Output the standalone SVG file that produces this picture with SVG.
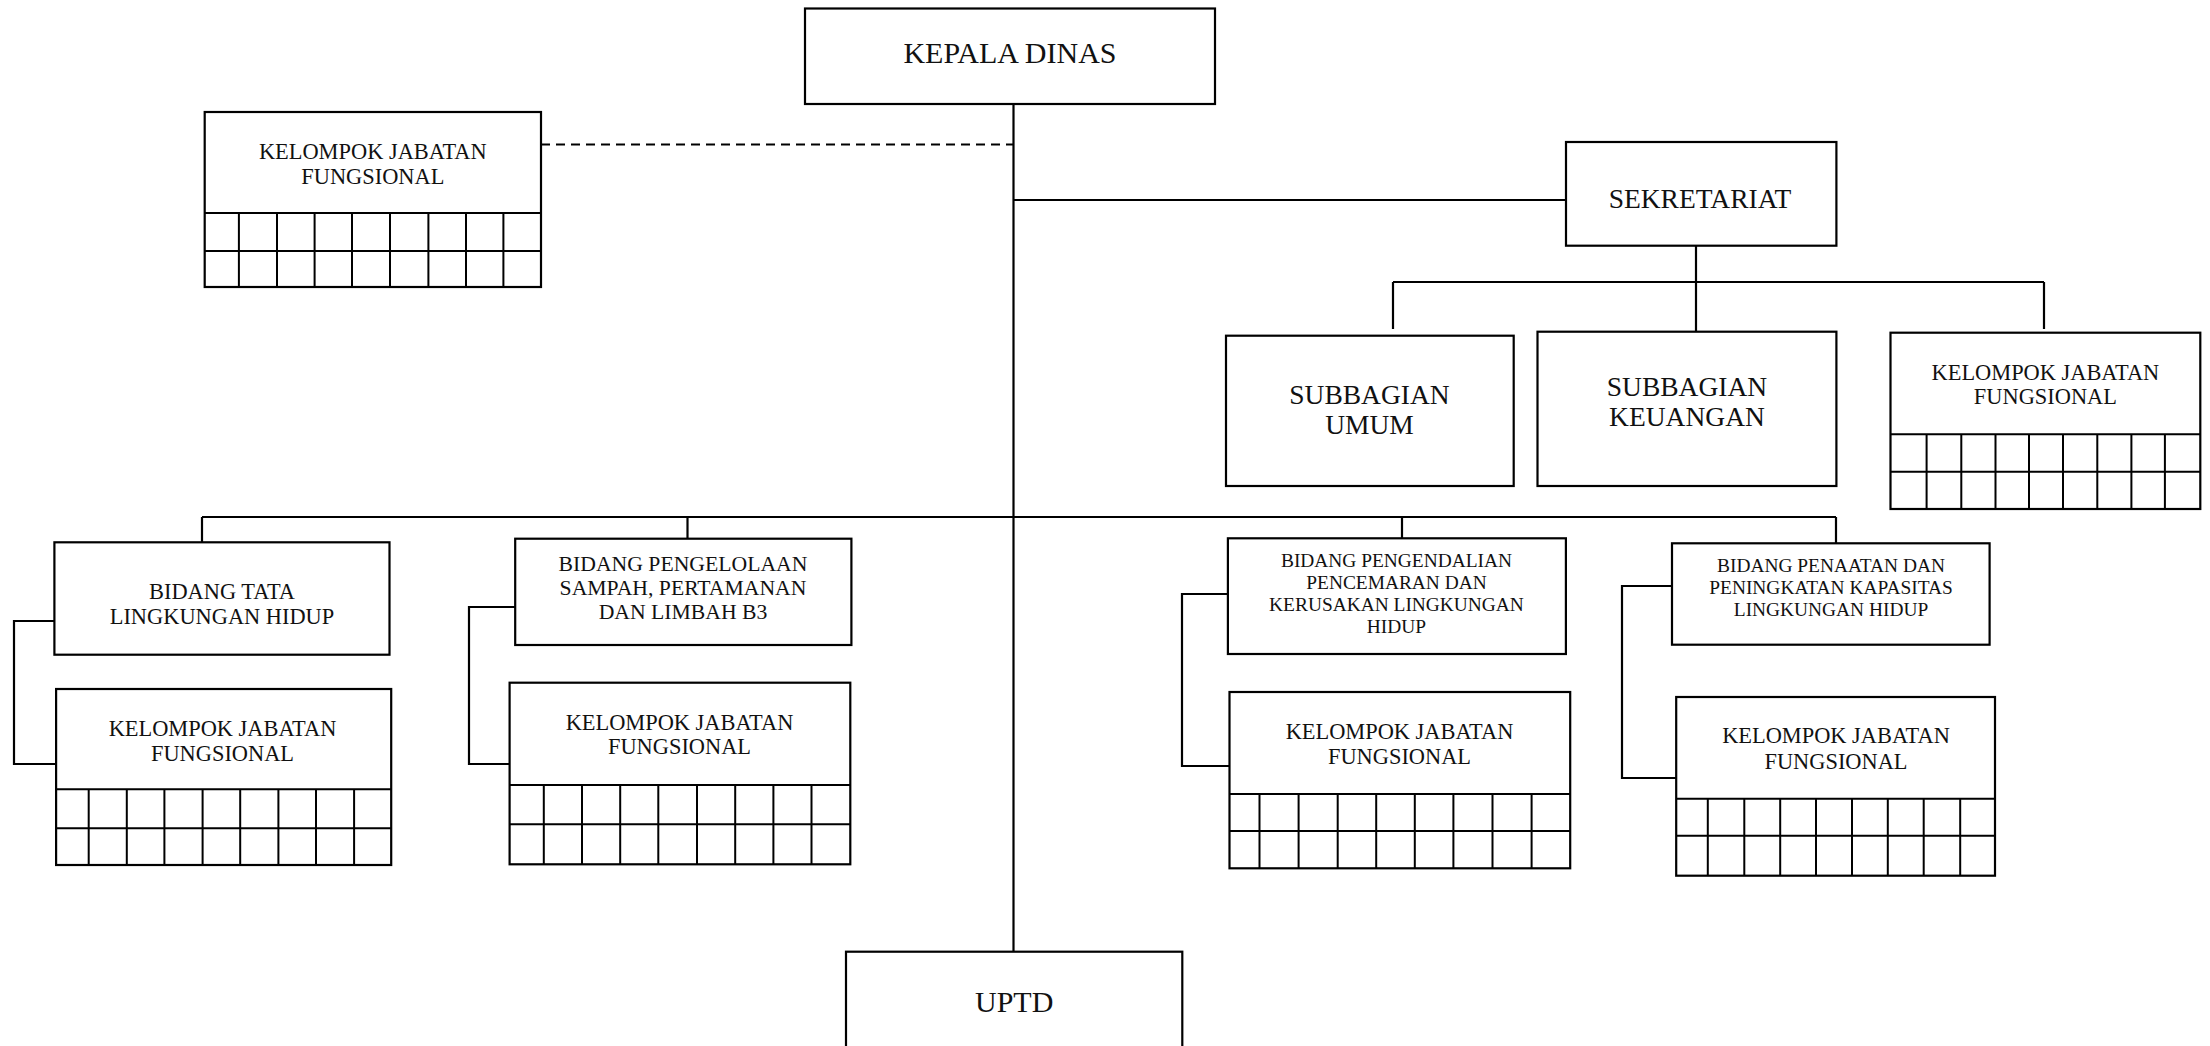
<svg xmlns="http://www.w3.org/2000/svg" width="2210" height="1046" viewBox="0 0 2210 1046">
<style>
.box{fill:#fff;stroke:#000;stroke-width:2.2}
.grid{fill:none;stroke:#000;stroke-width:2}
.ln{fill:none;stroke:#000;stroke-width:2.2}
.dash{fill:none;stroke:#000;stroke-width:2.2;stroke-dasharray:9 6}
text{font-family:"Liberation Serif","Times New Roman",serif;fill:#111;text-anchor:middle}
.f30{font-size:30px}
.f27{font-size:27.5px}
.f22{font-size:22.4px}
.f21{font-size:21.7px}
.f19{font-size:19.4px}
</style>
<rect width="2210" height="1046" fill="#fff"/>
<g id="connectors">
<path class="ln" d="M1013.5 105 V952"/>
<path class="dash" d="M541 144.5 H1013.5"/>
<path class="ln" d="M1013.5 200 H1566"/>
<path class="ln" d="M1696 246 V332"/>
<path class="ln" d="M1393 282 H2044 M1393 282 V329 M2044 282 V329"/>
<path class="ln" d="M202 517 H1836 M202 517 V542 M687.5 517 V539 M1402 517 V538 M1836 517 V543"/>
<path class="ln" d="M54 621 H14 V764 H56"/>
<path class="ln" d="M515 607 H469 V764 H510"/>
<path class="ln" d="M1228 594 H1182 V766 H1230"/>
<path class="ln" d="M1672 586 H1622 V778 H1676"/>
</g>
<g id="kepala-dinas">
<rect class="box" x="805" y="8.5" width="410" height="95.5"/>
<text class="f30" x="1010" y="62.7">KEPALA DINAS</text>
</g>
<g id="kjf-top">
<rect class="box" x="204.7" y="112" width="336.3" height="175"/>
<path class="grid" d="M204.7 213 H541 M204.7 251 H541 M238.9 213 V287 M277 213 V287 M314.6 213 V287 M352 213 V287 M390 213 V287 M428.4 213 V287 M466 213 V287 M503.4 213 V287"/>
<text class="f22" x="372.8" y="158.5">KELOMPOK JABATAN</text>
<text class="f22" x="372.8" y="184">FUNGSIONAL</text>
</g>
<g id="sekretariat">
<rect class="box" x="1566" y="142" width="270.4" height="103.7"/>
<text class="f27" x="1700" y="207.5">SEKRETARIAT</text>
</g>
<g id="subbagian-umum">
<rect class="box" x="1226" y="335.7" width="287.7" height="150.3"/>
<text class="f27" x="1369.5" y="403.5">SUBBAGIAN</text>
<text class="f27" x="1369.5" y="433.5">UMUM</text>
</g>
<g id="subbagian-keuangan">
<rect class="box" x="1537.5" y="331.7" width="298.9" height="154.3"/>
<text class="f27" x="1687" y="396">SUBBAGIAN</text>
<text class="f27" x="1687" y="426">KEUANGAN</text>
</g>
<g id="kjf-sekretariat">
<rect class="box" x="1890.5" y="332.7" width="309.8" height="176.3"/>
<path class="grid" d="M1890.5 434.3 H2200.3 M1890.5 471.7 H2200.3 M1926.6 434.3 V509 M1961.3 434.3 V509 M1995.5 434.3 V509 M2029 434.3 V509 M2063 434.3 V509 M2097.3 434.3 V509 M2131.4 434.3 V509 M2164.9 434.3 V509"/>
<text class="f22" x="2045.4" y="379.5">KELOMPOK JABATAN</text>
<text class="f22" x="2045.4" y="404">FUNGSIONAL</text>
</g>
<g id="bidang-tata">
<rect class="box" x="54.4" y="542.3" width="335.1" height="112.4"/>
<text class="f22" x="222" y="598.5">BIDANG TATA</text>
<text class="f22" x="222" y="623.5">LINGKUNGAN HIDUP</text>
</g>
<g id="kjf-tata">
<rect class="box" x="56.1" y="689" width="335.1" height="176"/>
<path class="grid" d="M56.1 789.3 H391.2 M56.1 828.3 H391.2 M88.7 789.3 V865 M126.8 789.3 V865 M164.4 789.3 V865 M202.6 789.3 V865 M240.2 789.3 V865 M278.4 789.3 V865 M316 789.3 V865 M354.1 789.3 V865"/>
<text class="f22" x="222.5" y="735.7">KELOMPOK JABATAN</text>
<text class="f22" x="222.5" y="760.7">FUNGSIONAL</text>
</g>
<g id="bidang-pengelolaan">
<rect class="box" x="515.2" y="538.7" width="336.2" height="106.3"/>
<text class="f21" x="683" y="570.5">BIDANG PENGELOLAAN</text>
<text class="f21" x="683" y="594.5">SAMPAH, PERTAMANAN</text>
<text class="f21" x="683" y="618.7">DAN LIMBAH B3</text>
</g>
<g id="kjf-pengelolaan">
<rect class="box" x="509.6" y="682.7" width="340.7" height="181.6"/>
<path class="grid" d="M509.6 785 H850.3 M509.6 824.3 H850.3 M543.8 785 V864.3 M582 785 V864.3 M620.2 785 V864.3 M658.3 785 V864.3 M697 785 V864.3 M735.2 785 V864.3 M773.4 785 V864.3 M811.5 785 V864.3"/>
<text class="f22" x="679.5" y="729.7">KELOMPOK JABATAN</text>
<text class="f22" x="679.5" y="754.2">FUNGSIONAL</text>
</g>
<g id="bidang-pengendalian">
<rect class="box" x="1227.9" y="538.3" width="338" height="115.7"/>
<text class="f19" x="1396.5" y="566.5">BIDANG PENGENDALIAN</text>
<text class="f19" x="1396.5" y="588.5">PENCEMARAN DAN</text>
<text class="f19" x="1396.5" y="610.8">KERUSAKAN LINGKUNGAN</text>
<text class="f19" x="1396.5" y="632.5">HIDUP</text>
</g>
<g id="kjf-pengendalian">
<rect class="box" x="1229.5" y="692" width="340.7" height="176.3"/>
<path class="grid" d="M1229.5 794 H1570.2 M1229.5 831 H1570.2 M1259.5 794 V868.3 M1298.6 794 V868.3 M1337.7 794 V868.3 M1376.2 794 V868.3 M1414.8 794 V868.3 M1453.4 794 V868.3 M1492.5 794 V868.3 M1531.6 794 V868.3"/>
<text class="f22" x="1399.5" y="739.2">KELOMPOK JABATAN</text>
<text class="f22" x="1399.5" y="764.2">FUNGSIONAL</text>
</g>
<g id="bidang-penaatan">
<rect class="box" x="1672" y="543.3" width="317.6" height="101.4"/>
<text class="f19" x="1831" y="572.2">BIDANG PENAATAN DAN</text>
<text class="f19" x="1831" y="593.8">PENINGKATAN KAPASITAS</text>
<text class="f19" x="1831" y="615.5">LINGKUNGAN HIDUP</text>
</g>
<g id="kjf-penaatan">
<rect class="box" x="1676.2" y="697" width="318.8" height="178.7"/>
<path class="grid" d="M1676.2 798.7 H1995 M1676.2 835.7 H1995 M1707.8 798.7 V875.7 M1744.3 798.7 V875.7 M1780.2 798.7 V875.7 M1816 798.7 V875.7 M1852 798.7 V875.7 M1887.8 798.7 V875.7 M1923.7 798.7 V875.7 M1960.2 798.7 V875.7"/>
<text class="f22" x="1836" y="743.2">KELOMPOK JABATAN</text>
<text class="f22" x="1836" y="768.5">FUNGSIONAL</text>
</g>
<g id="uptd">
<rect class="box" x="846" y="951.7" width="336.3" height="110"/>
<text class="f30" x="1014.2" y="1011.7">UPTD</text>
</g>
</svg>
